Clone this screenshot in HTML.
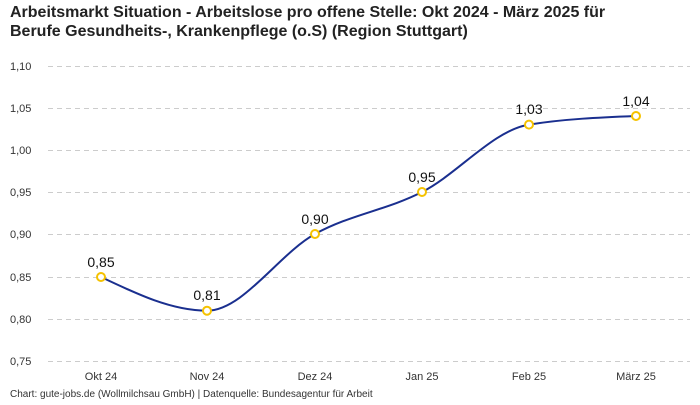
<!DOCTYPE html>
<html><head><meta charset="utf-8"><style>
html,body{margin:0;padding:0;background:#fff;}
body{width:700px;height:400px;overflow:hidden;font-family:"Liberation Sans",sans-serif;}
</style></head><body>
<svg width="700" height="400" xmlns="http://www.w3.org/2000/svg" font-family="Liberation Sans, sans-serif">
<text x="10" y="17" font-size="16" font-weight="bold" fill="#222">Arbeitsmarkt Situation - Arbeitslose pro offene Stelle: Okt 2024 - März 2025 für</text>
<text x="10" y="36" font-size="16" font-weight="bold" fill="#222">Berufe Gesundheits-, Krankenpflege (o.S) (Region Stuttgart)</text>
<g stroke="#ccc" stroke-width="1" stroke-dasharray="5,4">
<line x1="48" x2="690" y1="66.5" y2="66.5"/><line x1="48" x2="690" y1="108.5" y2="108.5"/>
<line x1="48" x2="690" y1="150.5" y2="150.5"/><line x1="48" x2="690" y1="192.5" y2="192.5"/>
<line x1="48" x2="690" y1="234.5" y2="234.5"/><line x1="48" x2="690" y1="277.5" y2="277.5"/>
<line x1="48" x2="690" y1="319.5" y2="319.5"/><line x1="48" x2="690" y1="361.5" y2="361.5"/>
</g>
<g font-size="11" fill="#333">
<text x="10" y="70">1,10</text><text x="10" y="112">1,05</text><text x="10" y="154">1,00</text>
<text x="10" y="196">0,95</text><text x="10" y="238">0,90</text><text x="10" y="281">0,85</text>
<text x="10" y="323">0,80</text><text x="10" y="365">0,75</text>
</g>
<g font-size="11" fill="#333" text-anchor="middle">
<text x="101" y="380">Okt 24</text><text x="207" y="380">Nov 24</text><text x="315" y="380">Dez 24</text>
<text x="422" y="380">Jan 25</text><text x="529" y="380">Feb 25</text><text x="636" y="380">März 25</text>
</g>
<path d="M101,277 C136.3,293.8 171.7,310.7 207,310.7 C243,310.7 279,253.8 315,234 C350.7,214.4 386.3,210.2 422,192 C457.7,173.8 493.3,130.3 529,124.6 C564.7,118.9 600.3,117.4 636,116" fill="none" stroke="#1a2f8f" stroke-width="2"/>
<g fill="#fff" stroke="#f5c200" stroke-width="2">
<circle cx="101" cy="277" r="4"/><circle cx="207" cy="310.7" r="4"/><circle cx="315" cy="234" r="4"/>
<circle cx="422" cy="192" r="4"/><circle cx="529" cy="124.6" r="4"/><circle cx="636" cy="116" r="4"/>
</g>
<g font-size="14" fill="#111" text-anchor="middle">
<text x="101" y="267">0,85</text><text x="207" y="300">0,81</text><text x="315" y="224">0,90</text>
<text x="422" y="182">0,95</text><text x="529" y="114">1,03</text><text x="636" y="106">1,04</text>
</g>
<text x="10" y="397" font-size="10" fill="#333">Chart: gute-jobs.de (Wollmilchsau GmbH) | Datenquelle: Bundesagentur für Arbeit</text>
</svg>
</body></html>
